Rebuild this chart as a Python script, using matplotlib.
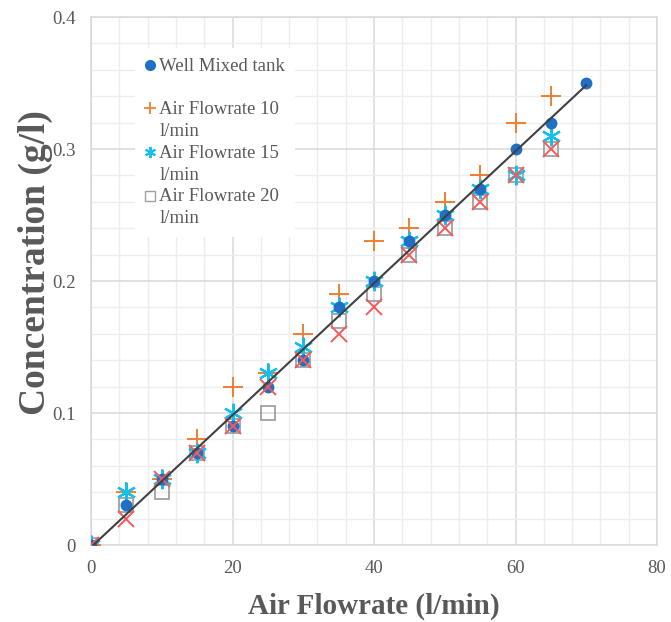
import numpy as np
import matplotlib
matplotlib.use("Agg")
import matplotlib.pyplot as plt
from matplotlib.ticker import MultipleLocator
from matplotlib.legend_handler import HandlerLine2D

plt.rcParams["font.family"] = ["Liberation Serif", "DejaVu Serif"]

# Sampling positions (l/min)
x_mixed = [0, 5, 10, 15, 20, 25, 30, 35, 40, 45, 50, 55, 60, 65, 70]
x_runs = [0, 5, 10, 15, 20, 25, 30, 35, 40, 45, 50, 55, 60, 65]

# Concentrations (g/l)
well_mixed = [0, 0.03, 0.05, 0.07, 0.09, 0.12, 0.14, 0.18, 0.20, 0.23, 0.25, 0.27, 0.30, 0.32, 0.35]
flow_10 = [0, 0.04, 0.05, 0.08, 0.12, 0.13, 0.16, 0.19, 0.23, 0.24, 0.26, 0.28, 0.32, 0.34]
flow_15 = [0, 0.04, 0.05, 0.07, 0.10, 0.13, 0.15, 0.18, 0.20, 0.23, 0.25, 0.27, 0.28, 0.31]
flow_20 = [0, 0.03, 0.04, 0.07, 0.09, 0.10, 0.14, 0.17, 0.19, 0.22, 0.24, 0.26, 0.28, 0.30]
flow_x = [0, 0.02, 0.05, 0.07, 0.09, 0.12, 0.14, 0.16, 0.18, 0.22, 0.24, 0.26, 0.28, 0.30]

labels = ["Well Mixed tank\n ", "Air Flowrate 10\nl/min",
          "Air Flowrate 15\nl/min", "Air Flowrate 20\nl/min"]

TXT = "#595959"

fig = plt.figure(figsize=(6.71, 6.22), dpi=100)
ax = fig.add_axes([91 / 671, 77 / 622, 566 / 671, 528 / 622])

ax.set_xlim(0, 80)
ax.set_ylim(0, 0.4)
ax.xaxis.set_major_locator(MultipleLocator(20))
ax.xaxis.set_minor_locator(MultipleLocator(4))
ax.yaxis.set_major_locator(MultipleLocator(0.1))
ax.yaxis.set_minor_locator(MultipleLocator(0.02))
ax.set_yticks([0, 0.1, 0.2, 0.3, 0.4])
ax.set_yticklabels(["0", "0.1", "0.2", "0.3", "0.4"])

ax.grid(which="major", color="#d9d9d9", lw=1.1, zorder=0)
ax.grid(which="minor", color="#ededed", lw=1.0, zorder=0)
ax.set_axisbelow(True)
for s in ax.spines.values():
    s.set_color("#d9d9d9")
    s.set_linewidth(1.1)
ax.tick_params(which="both", length=0)
ax.tick_params(axis="both", labelsize=13.5, labelcolor=TXT)
ax.tick_params(axis="x", pad=11)
ax.tick_params(axis="y", pad=11)

sq, = ax.plot(x_runs, flow_20, ls="none", marker="s", ms=10, mfc="none",
              mec="#a0a0a0", mew=1.3, zorder=3)
pl, = ax.plot(x_runs, flow_10, ls="none", marker="+", ms=14, color="#f07f32",
              mew=1.4, zorder=4)
st, = ax.plot(x_runs, flow_15, ls="none", marker=(6, 2, 0), ms=14,
              color="#14bff0", mew=1.6, zorder=5)
wm, = ax.plot(x_mixed, well_mixed, ls="none", marker="o", ms=7.5,
              color="#1f6fc4", zorder=6)
ax.plot(x_runs, flow_x, ls="none", marker="x", ms=12, color="#f55a5a",
        mew=1.4, zorder=7)

# Linear trend of the well-mixed series
k, b = np.polyfit(x_mixed, well_mixed, 1)
xt = np.array([min(x_mixed), max(x_mixed)])
ax.plot(xt, k * xt + b, color="#404040", lw=1.5, zorder=8)


class FirstLineHandler(HandlerLine2D):
    """Line handler whose marker sits beside the first line of a two-line label."""

    def __init__(self, dy, size, width, **kw):
        super().__init__(**kw)
        self.dy, self.size, self.width = dy, size, width

    def create_artists(self, legend, orig_handle, xdescent, ydescent,
                       width, height, fontsize, trans):
        arts = super().create_artists(legend, orig_handle, xdescent, ydescent,
                                      width, height, fontsize, trans)
        for a in arts:
            a.set_ydata(np.asarray(a.get_ydata(), float) + self.dy * fontsize)
            a.set_markersize(self.size)
            a.set_markeredgewidth(self.width)
        return arts


legend_sizes = {wm: (7, 1.0), pl: (8, 1.3), st: (8, 1.4), sq: (6.5, 1.0)}
hm = {h: FirstLineHandler(0.65, *v) for h, v in legend_sizes.items()}
leg = ax.legend([wm, pl, st, sq], labels, handler_map=hm,
                loc="upper left", bbox_to_anchor=(0.0777, 0.941),
                borderaxespad=0, frameon=True, fancybox=False,
                facecolor="white", edgecolor="none", framealpha=1,
                fontsize=13.5, labelspacing=0.25, handlelength=0.6,
                handletextpad=0.2, borderpad=0.5, labelcolor=TXT)
for t in leg.get_texts():
    t.set_linespacing(1.38)

ax.set_xlabel("Air Flowrate (l/min)", fontsize=21, fontweight="bold",
              color=TXT, labelpad=11)
ax.set_ylabel("Concentration (g/l)", fontsize=27, fontweight="bold",
              color=TXT)
ax.yaxis.set_label_coords(-0.067, 0.534)

fig.savefig("out.png", dpi=100)
